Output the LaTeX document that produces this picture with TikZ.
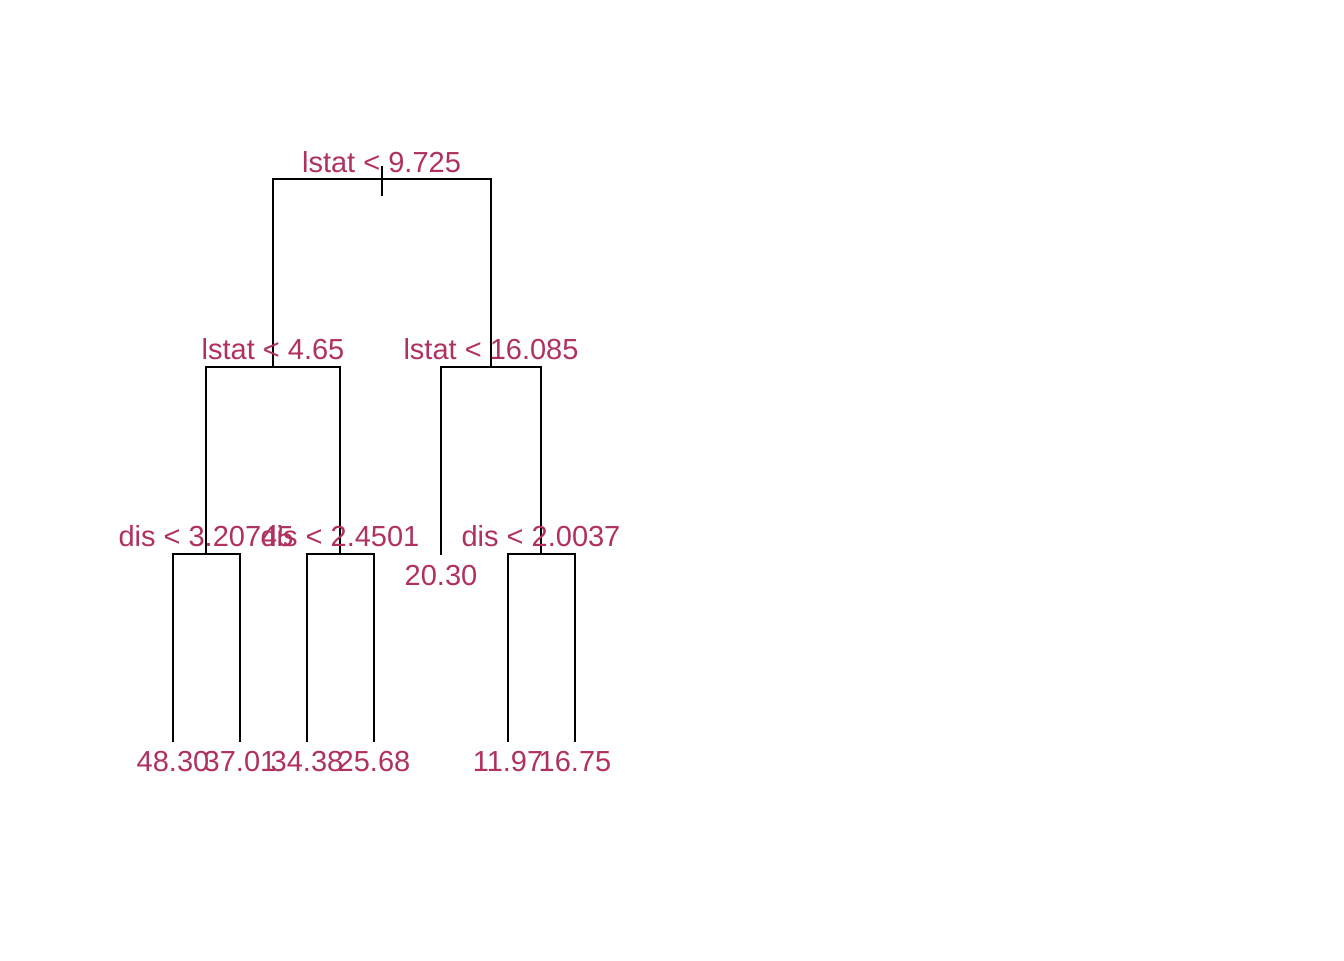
\documentclass[tikz,border=0pt]{standalone}
\usepackage{fontspec}
\setmainfont{Liberation Sans}
\definecolor{lab}{HTML}{B03060}
\tikzset{
  edge/.style={draw=black, line width=1.5pt, line cap=rect},
  lbl/.style={text=lab, font=\fontsize{21.75pt}{24pt}\selectfont, inner sep=0pt, anchor=base},
}
\begin{document}
\begin{tikzpicture}[x=0.75pt, y=-0.75pt]
\useasboundingbox (0,0) rectangle (1344,960);
% node positions
\coordinate (n1) at (381.5,179);
\coordinate (n2) at (273,367);
\coordinate (n3) at (491,367);
\coordinate (n4) at (206,554);
\coordinate (n5) at (340,554);
\coordinate (n6) at (441,554);
\coordinate (n7) at (541,554);
\coordinate (l1) at (173,741);
\coordinate (l2) at (240,741);
\coordinate (l3) at (307,741);
\coordinate (l4) at (374,741);
\coordinate (l5) at (508,741);
\coordinate (l6) at (575,741);
% edges
\draw[edge] (n2) |- (n1) -| (n3);
\draw[edge] (n4) |- (n2) -| (n5);
\draw[edge] (n6) |- (n3) -| (n7);
\draw[edge] (l1) |- (n4) -| (l2);
\draw[edge] (l3) |- (n5) -| (l4);
\draw[edge] (l5) |- (n7) -| (l6);
\coordinate (t1) at (382,167);
\coordinate (t2) at (382,195);
\draw[edge] (t1) -- (t2);
% split labels
\node[lbl] (s1) at (381.5,172.5) {lstat < 9.725};
\node[lbl] (s2) at (273,359.5) {lstat < 4.65};
\node[lbl] (s3) at (491,359.5) {lstat < 16.085};
\node[lbl] (s4) at (206,546.5) {dis < 3.20745};
\node[lbl] (s5) at (340,546.5) {dis < 2.4501};
\node[lbl] (s7) at (541,546.5) {dis < 2.0037};
% leaf labels
\node[lbl] (v6) at (441,585.5) {20.30};
\node[lbl] (v1) at (173,771.5) {48.30};
\node[lbl] (v2) at (240,771.5) {37.01};
\node[lbl] (v3) at (307,771.5) {34.38};
\node[lbl] (v4) at (374,771.5) {25.68};
\node[lbl] (v5) at (508,771.5) {11.97};
\node[lbl] (v7) at (575,771.5) {16.75};
\end{tikzpicture}
\end{document}
